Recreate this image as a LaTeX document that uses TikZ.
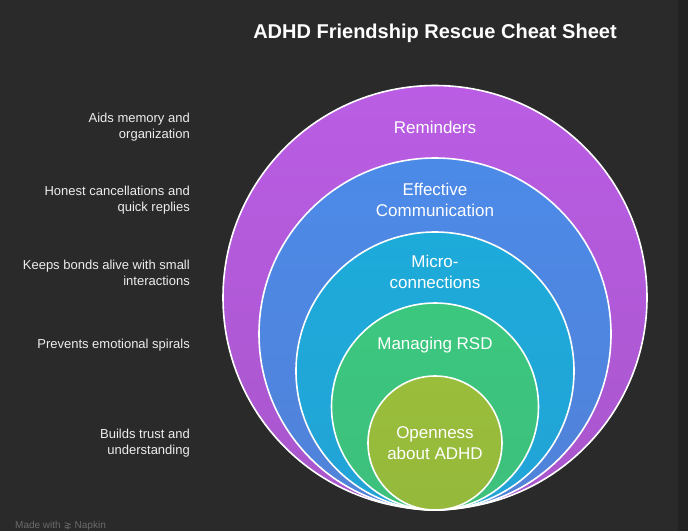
\documentclass[tikz,border=0pt]{standalone}
\usepackage{fontspec}
\setmainfont{Liberation Sans}
\newfontfamily\symfont{DejaVu Sans}
\definecolor{bg}{HTML}{2A2A2A}
\definecolor{strip}{HTML}{222222}
\definecolor{purpT}{HTML}{BA5DE4}
\definecolor{purpB}{HTML}{A856CC}
\definecolor{blueT}{HTML}{4C8AE8}
\definecolor{blueB}{HTML}{5182D8}
\definecolor{cyanT}{HTML}{1DABDA}
\definecolor{cyanB}{HTML}{22A3D6}
\definecolor{grnT}{HTML}{3CC77F}
\definecolor{grnB}{HTML}{3DC07C}
\definecolor{ygT}{HTML}{9ABD3B}
\definecolor{ygB}{HTML}{95B93B}
\definecolor{txt}{HTML}{EDEDED}
\definecolor{mark}{HTML}{6A6A6A}
\tikzset{
  ring/.style={draw=white, line width=1.6pt},
  inlabel/.style={text=white, align=center, font=\fontsize{17}{21}\selectfont, inner sep=0pt},
  sidelabel/.style={text=txt, align=right, anchor=east, font=\fontsize{13}{16}\selectfont, inner sep=0pt},
}
\begin{document}
\begin{tikzpicture}[x=1pt,y=-1pt]
\useasboundingbox (0,0) rectangle (688,531);
\fill[bg] (0,0) rectangle (688,531);
\fill[strip] (678,0) rectangle (688,531);
\node[text=white, font=\bfseries\fontsize{20}{24}\selectfont, inner sep=0pt] (title) at (435,33) {ADHD Friendship Rescue Cheat Sheet};
% circles
\shade[ring, top color=purpT, bottom color=purpB] (435,297.5) circle[radius=212];
\shade[ring, top color=blueT, bottom color=blueB] (435,334) circle[radius=176];
\shade[ring, top color=cyanT, bottom color=cyanB] (435,371) circle[radius=139];
\shade[ring, top color=grnT, bottom color=grnB] (435,406.5) circle[radius=103.5];
\shade[ring, top color=ygT, bottom color=ygB] (435,443) circle[radius=67];
% circle labels
\node[inlabel] (l1) at (435,127) {Reminders};
\node[inlabel] (l2) at (435,199.5) {Effective\\Communication};
\node[inlabel] (l3) at (435,272) {Micro-\\connections};
\node[inlabel] (l4) at (435,345) {Managing RSD};
\node[inlabel] (l5) at (435,443) {Openness\\about ADHD};
% side labels
\node[sidelabel] (s1) at (190,127) {Aids memory and\\organization};
\node[sidelabel] (s2) at (190,200) {Honest cancellations and\\quick replies};
\node[sidelabel] (s3) at (190,272.5) {Keeps bonds alive with small\\interactions};
\node[sidelabel] (s4) at (190,345) {Prevents emotional spirals};
\node[sidelabel] (s5) at (190,443.5) {Builds trust and\\understanding};
% watermark
\node[text=mark, anchor=west, font=\fontsize{10}{11}\selectfont, inner sep=0pt] (wm) at (15,526) {Made with {\symfont ⋧} Napkin};
\end{tikzpicture}
\end{document}
